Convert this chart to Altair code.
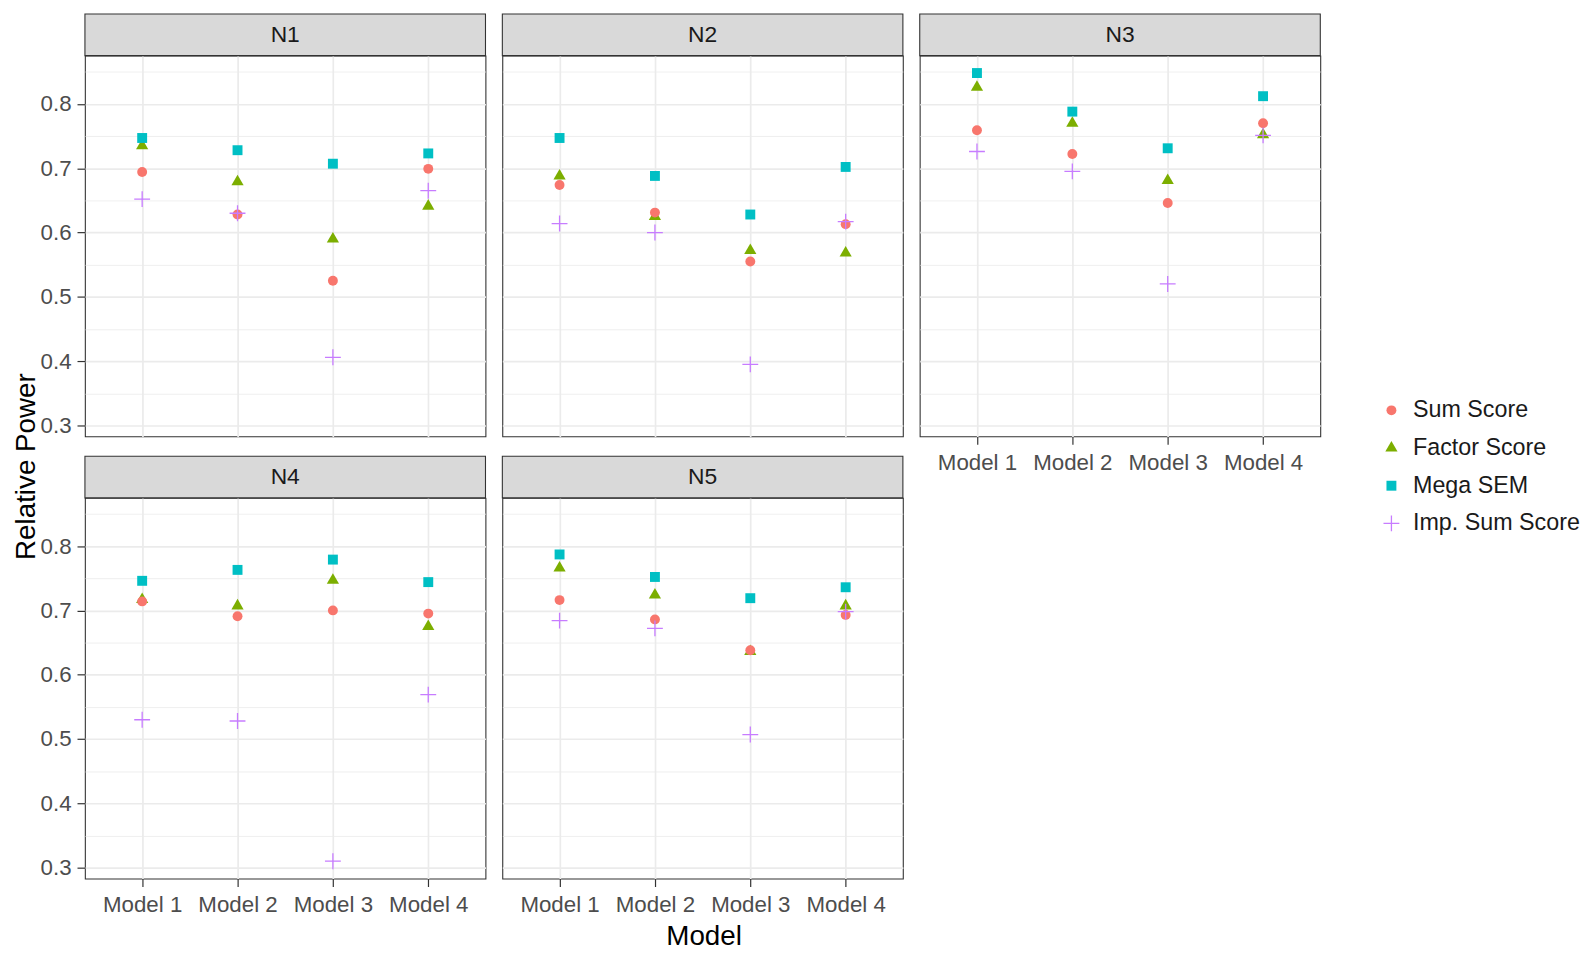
import altair as alt
import pandas as pd

panels = ["N1", "N2", "N3", "N4", "N5"]
models = ["Model 1", "Model 2", "Model 3", "Model 4"]
methods = ["Sum Score", "Factor Score", "Mega SEM", "Imp. Sum Score"]

sum_score = {
    "N1": [0.694, 0.628, 0.525, 0.699],
    "N2": [0.674, 0.631, 0.555, 0.613],
    "N3": [0.759, 0.722, 0.646, 0.770],
    "N4": [0.714, 0.691, 0.700, 0.695],
    "N5": [0.716, 0.686, 0.638, 0.693],
}
factor_score = {
    "N1": [0.735, 0.679, 0.590, 0.641],
    "N2": [0.688, 0.625, 0.572, 0.568],
    "N3": [0.826, 0.770, 0.681, 0.752],
    "N4": [0.717, 0.707, 0.747, 0.675],
    "N5": [0.766, 0.724, 0.636, 0.707],
}
mega_sem = {
    "N1": [0.747, 0.728, 0.707, 0.723],
    "N2": [0.747, 0.688, 0.628, 0.702],
    "N3": [0.848, 0.788, 0.731, 0.812],
    "N4": [0.746, 0.763, 0.779, 0.744],
    "N5": [0.787, 0.752, 0.719, 0.736],
}
imp_sum_score = {
    "N1": [0.652, 0.630, 0.406, 0.665],
    "N2": [0.614, 0.600, 0.395, 0.617],
    "N3": [0.726, 0.695, 0.520, 0.751],
    "N4": [0.530, 0.528, 0.310, 0.569],
    "N5": [0.684, 0.672, 0.507, 0.698],
}

y_ticks = [0.30, 0.35, 0.40, 0.45, 0.50, 0.55, 0.60, 0.65, 0.70, 0.75, 0.80, 0.85]
y_domain = [0.283, 0.875]

# drawing order (later rows are drawn on top)
draw_order = [
    ("Factor Score", factor_score),
    ("Sum Score", sum_score),
    ("Mega SEM", mega_sem),
    ("Imp. Sum Score", imp_sum_score),
]
rows = []
for method, table in draw_order:
    for p in panels:
        for m, v in zip(models, table[p]):
            rows.append({"Panel": p, "Model": m, "Method": method, "Power": v})
df = pd.DataFrame(rows)

W, H, S = 404, 384, 42
FONT = "Liberation Sans"
TRI = "M0,-1.42L1.23,0.71L-1.23,0.71Z"
PLUS = "M-1.6,-0.13H-0.13V-1.6H0.13V-0.13H1.6V0.13H0.13V1.6H-0.13V0.13H-1.6Z"
shapes = ["circle", TRI, "square", PLUS]
colors = ["#F8766D", "#7CAE00", "#00BFC4", "#C77CFF"]
minor = "round(datum.value * 100) % 10 != 0"

legend = alt.Legend(
    title=None, orient="none", legendX=1306, legendY=346,
    labelFontSize=23.5, labelFont=FONT, labelColor="#1a1a1a", labelLimit=400,
    symbolSize=100, rowPadding=13, labelOffset=10, padding=0,
    symbolStrokeWidth=0, symbolOpacity=1,
)


def y_axis(show, title=False):
    kw = dict(values=y_ticks, grid=True, gridColor="#ebebeb",
              gridWidth={"condition": {"test": minor, "value": 0.8}, "value": 1.7},
              domain=False, labelOverlap=False)
    if show:
        kw.update(labels=True,
                  labelExpr=f"{minor} ? '' : format(datum.value, '.1f')",
                  ticks=True, tickSize=8, tickWidth=1.2, tickColor="#333333",
                  tickOpacity={"condition": {"test": minor, "value": 0}, "value": 1},
                  labelFontSize=22.5, labelFont=FONT, labelColor="#4d4d4d",
                  labelPadding=6)
    else:
        kw.update(labels=False, ticks=False)
    if title:
        kw.update(title="Relative Power", titleFontSize=28, titleFont=FONT,
                  titleFontWeight="normal", titleColor="#000000",
                  titleX=-51, titleY=414, titleAngle=270,
                  titleBaseline="alphabetic", titleAlign="center")
    else:
        kw["title"] = None
    return alt.Axis(**kw)


def x_axis(show, title=False):
    kw = dict(grid=True, gridColor="#ebebeb", gridWidth=1.7, domain=False,
              labelAngle=0)
    if show:
        kw.update(labels=True, ticks=True, tickSize=8, tickWidth=1.2,
                  tickColor="#333333", labelFontSize=22.5, labelFont=FONT,
                  labelColor="#4d4d4d", labelPadding=7)
    else:
        kw.update(labels=False, ticks=False)
    if title:
        kw.update(title="Model", titleFontSize=28, titleFont=FONT,
                  titleFontWeight="normal", titleColor="#000000",
                  titleX=624, titleY=66, titleBaseline="alphabetic",
                  titleAlign="center")
    else:
        kw["title"] = None
    return alt.Axis(**kw)


def panel(name, show_x, show_y, x_title=False, y_title=False):
    strip_df = pd.DataFrame({"Panel": [name]})
    rect = alt.Chart(strip_df).mark_rect(
        fill="#d9d9d9", stroke="#333333", strokeWidth=1.1
    ).encode(x=alt.value(0), x2=alt.value(W), y=alt.value(-S), y2=alt.value(0))
    txt = alt.Chart(strip_df).mark_text(
        fontSize=23, font=FONT, color="#1a1a1a", baseline="middle", align="center"
    ).encode(x=alt.value(W / 2), y=alt.value(-S / 2), text="Panel:N")
    pts = alt.Chart(df[df["Panel"] == name]).mark_point(
        filled=True, opacity=1, size=100
    ).encode(
        x=alt.X("Model:N", sort=models,
                scale=alt.Scale(domain=models, padding=0.6),
                axis=x_axis(show_x, x_title)),
        y=alt.Y("Power:Q",
                scale=alt.Scale(domain=y_domain, nice=False, zero=False),
                axis=y_axis(show_y, y_title)),
        color=alt.Color("Method:N", scale=alt.Scale(domain=methods, range=colors),
                        legend=legend),
        shape=alt.Shape("Method:N", scale=alt.Scale(domain=methods, range=shapes),
                        legend=legend),
    )
    return alt.layer(rect, txt, pts).properties(width=W, height=H)


p1 = panel("N1", False, True, y_title=True)
p2 = panel("N2", False, False)
p3 = panel("N3", True, False)
p4 = panel("N4", True, True, x_title=True)
p5 = panel("N5", True, False)

chart = alt.concat(
    p1, p2, p3, p4, p5, columns=3, bounds="flush",
    spacing={"row": 62, "column": 17},
).properties(
    padding={"left": 3.6, "top": 0, "right": 6, "bottom": 0},
    background="white",
).configure_view(stroke="#333333", strokeWidth=1.1)

chart.save("out.html", embed_options={"renderer": "svg", "actions": False})
